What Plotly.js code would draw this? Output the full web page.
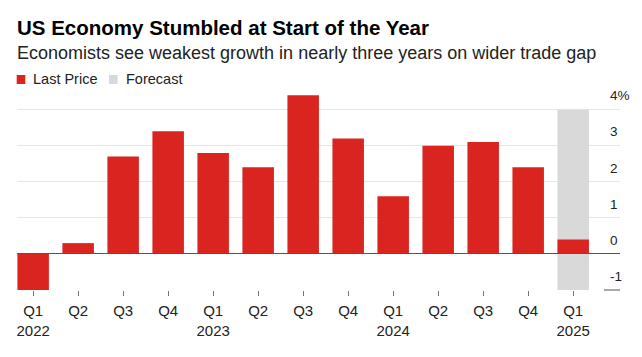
<!DOCTYPE html>
<html>
<head>
<meta charset="utf-8">
<script src="https://cdn.plot.ly/plotly-3.0.1.min.js"></script>
<style>html,body{margin:0;padding:0;background:#fff;}#chart{width:642px;height:357px;}</style>
</head>
<body>
<div id="chart"></div>
<script>
// ---- data ----
const categories = ['2022 Q1','2022 Q2','2022 Q3','2022 Q4','2023 Q1','2023 Q2','2023 Q3','2023 Q4','2024 Q1','2024 Q2','2024 Q3','2024 Q4','2025 Q1'];
const tickLabels = ['Q1<br>2022','Q2','Q3','Q4','Q1<br>2023','Q2','Q3','Q4','Q1<br>2024','Q2','Q3','Q4','Q1<br>2025'];
const gdpGrowth = [-1.0, 0.3, 2.7, 3.4, 2.8, 2.4, 4.4, 3.2, 1.6, 3.0, 3.1, 2.4, 0.4];
const forecastCategories = ['2025 Q1'];
const forecastLow = [-1];
const forecastHigh = [4];
const yTickVals = [-1, 0, 1, 2, 3, 4];
const yTickText = ['-1', '0', '1', '2', '3', '4%'];
const titleText = 'US Economy Stumbled at Start of the Year';
const subtitleText = 'Economists see weakest growth in nearly three years on wider trade gap';
const legendNames = ['Last Price', 'Forecast'];

// ---- style ----
const RED = '#da2420';
const GRAY = '#d9d9d9';
const FONT = 'Liberation Sans, Arial, sans-serif';
const M = {l: 17, r: 22, t: 88, b: 67};
const W = 642, H = 357;
const pw = W - M.l - M.r, ph = H - M.t - M.b;
const px = x => (x - M.l) / pw;
const py = y => (H - M.b - y) / ph;

const traces = [
  {
    type: 'bar', name: legendNames[1], x: forecastCategories,
    base: forecastLow, y: forecastHigh.map((h, i) => h - forecastLow[i]),
    marker: {color: GRAY, line: {width: 0}}, showlegend: false, hoverinfo: 'skip'
  },
  {
    type: 'bar', name: legendNames[0], x: categories, y: gdpGrowth,
    marker: {color: RED, line: {width: 0}}, showlegend: false, hoverinfo: 'skip'
  }
];

const layout = {
  width: W, height: H,
  margin: M,
  paper_bgcolor: '#fff', plot_bgcolor: '#fff',
  barmode: 'overlay', bargap: 0.30,
  showlegend: false,
  font: {family: FONT, color: '#222'},
  xaxis: {
    type: 'category', categoryorder: 'array', categoryarray: categories,
    range: [-0.359, 13.04], fixedrange: true,
    tickmode: 'array', tickvals: categories, ticktext: tickLabels,
    ticks: 'outside', ticklen: 5, tickwidth: 1, tickcolor: '#777',
    ticklabelstandoff: 2,
    showgrid: false, zeroline: false, showline: false,
    tickfont: {size: 15, color: '#222', family: FONT}
  },
  yaxis: {
    range: [-1, 4.6], fixedrange: true, side: 'right',
    tickmode: 'array', tickvals: yTickVals, ticktext: yTickText, ticks: '',
    ticklabelstandoff: -11, ticklabelshift: -14,
    showgrid: true, gridcolor: '#e6e6e6', gridwidth: 1,
    zeroline: true, zerolinecolor: '#555', zerolinewidth: 1, zerolinelayer: 'above traces',
    showline: false,
    tickfont: {size: 13.5, color: '#222', family: FONT}
  },
  shapes: [
    {type: 'line', xref: 'paper', yref: 'paper', x0: px(604), x1: 1, y0: 0, y1: 0, line: {color: '#555', width: 1}},
    {type: 'rect', xref: 'paper', yref: 'paper', x0: px(16.7), x1: px(25.3), y0: py(84), y1: py(75), fillcolor: RED, line: {width: 0}},
    {type: 'rect', xref: 'paper', yref: 'paper', x0: px(109), x1: px(117.6), y0: py(84), y1: py(75), fillcolor: GRAY, line: {width: 0}}
  ],
  annotations: [
    {text: '<b>' + titleText + '</b>', xref: 'paper', yref: 'paper', x: px(15), y: py(27.5), xanchor: 'left', yanchor: 'middle', showarrow: false, font: {size: 20.5, color: '#000', family: FONT}},
    {text: subtitleText, xref: 'paper', yref: 'paper', x: px(15), y: py(53), xanchor: 'left', yanchor: 'middle', showarrow: false, font: {size: 18, color: '#222', family: FONT}},
    {text: legendNames[0], xref: 'paper', yref: 'paper', x: px(31.3), y: py(79), xanchor: 'left', yanchor: 'middle', showarrow: false, font: {size: 14.5, color: '#222', family: FONT}},
    {text: legendNames[1], xref: 'paper', yref: 'paper', x: px(123.7), y: py(79), xanchor: 'left', yanchor: 'middle', showarrow: false, font: {size: 14.5, color: '#222', family: FONT}}
  ]
};

Plotly.newPlot('chart', traces, layout, {staticPlot: true, displayModeBar: false});
</script>
</body>
</html>
